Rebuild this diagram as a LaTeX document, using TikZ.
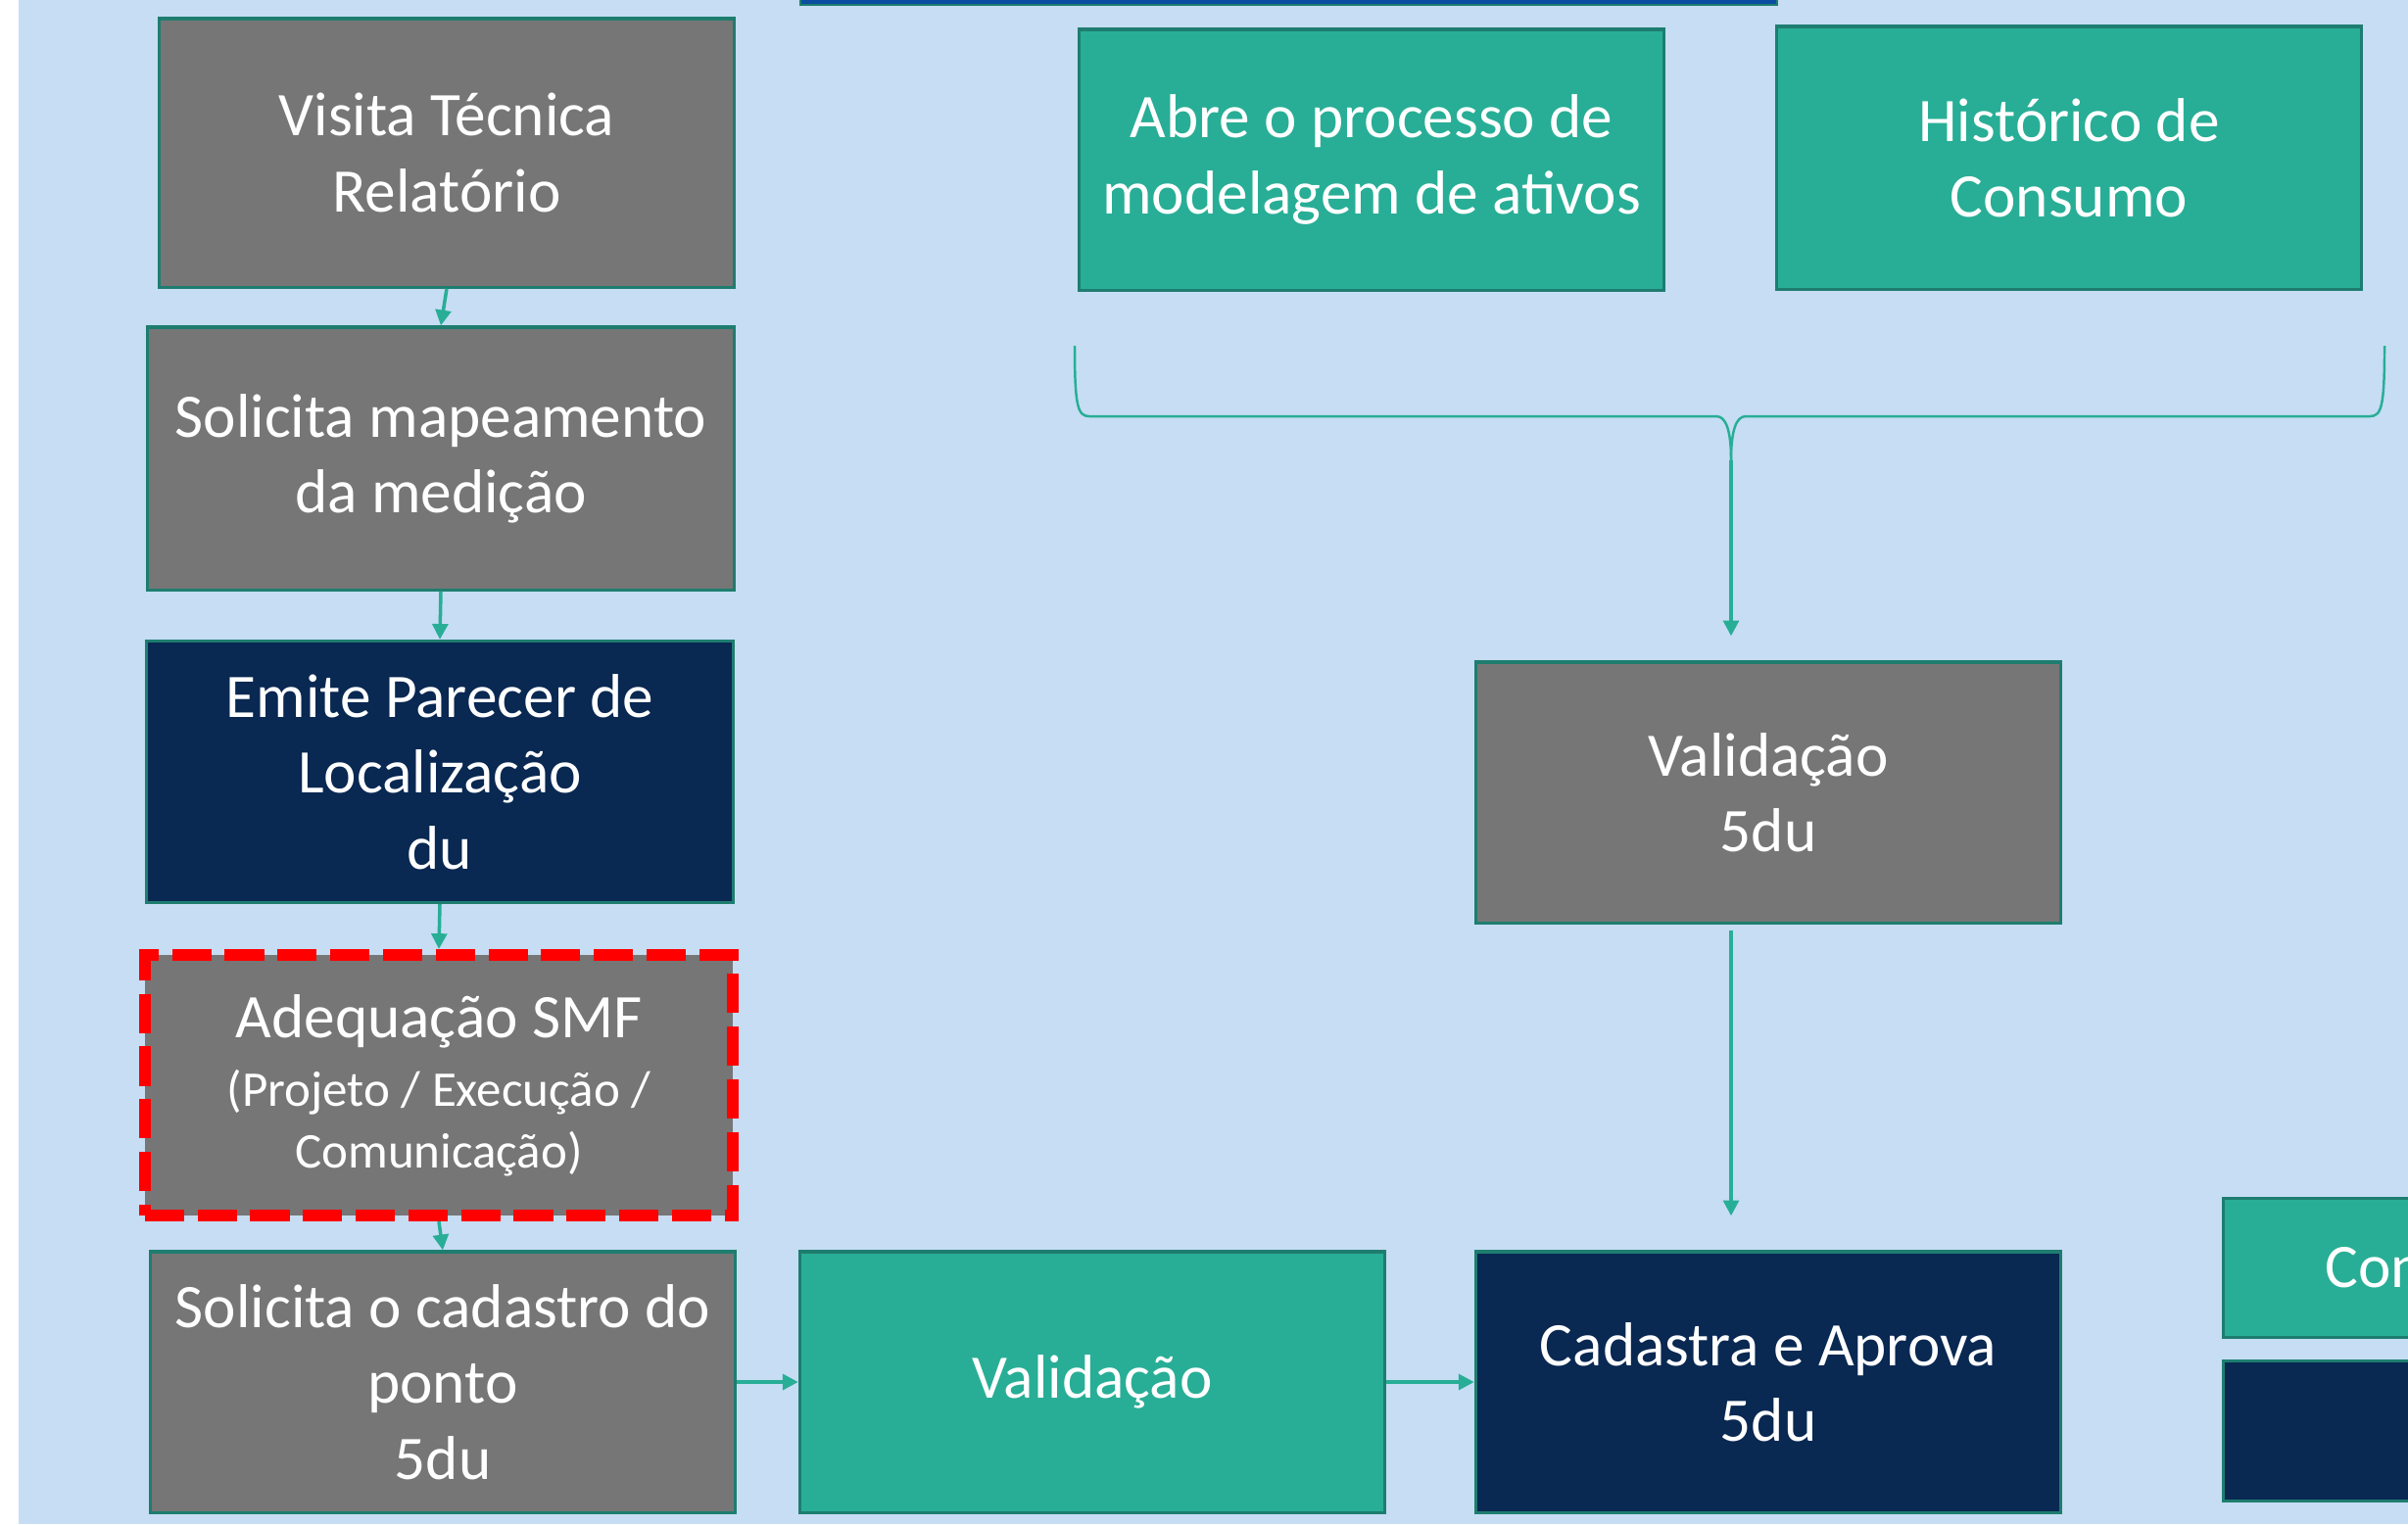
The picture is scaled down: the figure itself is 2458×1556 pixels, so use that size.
\documentclass[tikz,border=0pt]{standalone}
\usepackage{fontspec}
\setmainfont{Carlito}
\usetikzlibrary{arrows.meta}

\definecolor{fundo}{HTML}{C6DDF4}
\definecolor{cinza}{HTML}{767676}
\definecolor{verde}{HTML}{28AE96}
\definecolor{marinho}{HTML}{092852}
\definecolor{borda}{HTML}{1E7D6F}
\definecolor{azul}{HTML}{0B4DA0}

\begin{document}
\begin{tikzpicture}[x=0.01cm, y=-0.01cm,
  caixa/.style={draw=borda, line width=0.9pt, text=white, align=flush center, text width=5.8cm,
    inner sep=0pt, minimum width=5.97cm, minimum height=2.66cm, font=\fontsize{18}{22}\selectfont},
  gbox/.style={caixa, fill=cinza},
  tbox/.style={caixa, fill=verde},
  nbox/.style={caixa, fill=marinho},
  seta/.style={draw=verde, line width=1pt, -{Triangle[length=4.5pt,width=4.5pt]}}]

\useasboundingbox (0,0) rectangle (2458,1556);
\clip (0,0) rectangle (2458,1556);
\fill[fundo] (19,0) rectangle (2458,1556);

% barra do topo
\draw[borda, fill=azul, line width=0.8pt] (817,-20) rectangle (1814,5);

% coluna da esquerda
\node[gbox, minimum width=5.86cm, minimum height=2.74cm] (b1) at (456,156) {Visita Técnica\\Relatório};
\node[gbox, minimum width=5.99cm, minimum height=2.68cm] (b2) at (450,468) {Solicita mapeamento\\da medição};
\node[nbox, minimum width=5.98cm, minimum height=2.67cm] (b3) at (449,788) {Emite Parecer de\\Localização\\du};
\node[gbox, draw=red, line width=3.4pt, dash pattern=on 11.4pt off 3.9pt, minimum width=6.0cm] (b4) at (448,1108)
  {Adequação SMF\\[2.3pt]{\fontsize{14.5}{17.7}\selectfont (Projeto / Execução /\\Comunicação)\par}};
\node[gbox] (b5) at (452,1411) {Solicita o cadastro do\\ponto\\5du};

% linha de baixo
\node[tbox] (v1) at (1115,1411) {Validação};
\node[nbox] (ca) at (1805,1411) {Cadastra e Aprova\\5du};

% lado direito
\node[tbox] (ab) at (1400,163) {Abre o processo de\\modelagem de ativos};
\node[tbox, minimum height=2.68cm] (hi) at (2112,161) {Histórico de\\Consumo};
\node[gbox] (vb) at (1805,809) {Validação\\5du};

% legenda (cortada)
\node[tbox, anchor=north west, minimum height=1.42cm] (leg1) at (2268,1222) {};
\node[nbox, anchor=north west, minimum height=1.43cm] (leg2) at (2268,1388) {};
\node[text=white, inner sep=0pt, anchor=west, font=\fontsize{18}{22}\selectfont] (leg1t) at ([xshift=1.05cm]leg1.west) {Con};

% setas
\draw[seta] (b1.south) -- (b2.north);
\draw[seta] (b2.south) -- (b3.north);
\draw[seta] (b3.south) -- (b4.north);
\draw[seta] (b4.south) -- (b5.north);
\draw[seta] (b5.east) -- (v1.west);
\draw[seta] (v1.east) -- (ca.west);

% chave
\coordinate (ponta) at (1767,470);
\draw[verde, line width=0.7pt] (1097,353) .. controls (1097,415) and (1100,425) .. (1112,425) -- (1752,425)
  .. controls (1762,425) and (1767,440) .. (ponta);
\draw[verde, line width=0.7pt] (2434,353) .. controls (2434,415) and (2431,425) .. (2419,425) -- (1782,425)
  .. controls (1772,425) and (1767,440) .. (ponta);
\draw[seta, shorten >=0.25cm] (ponta) -- (ponta |- vb.north);
\draw[seta, shorten <=0.06cm, shorten >=0.35cm] (ponta |- vb.south) -- (ponta |- ca.north);

\end{tikzpicture}
\end{document}
